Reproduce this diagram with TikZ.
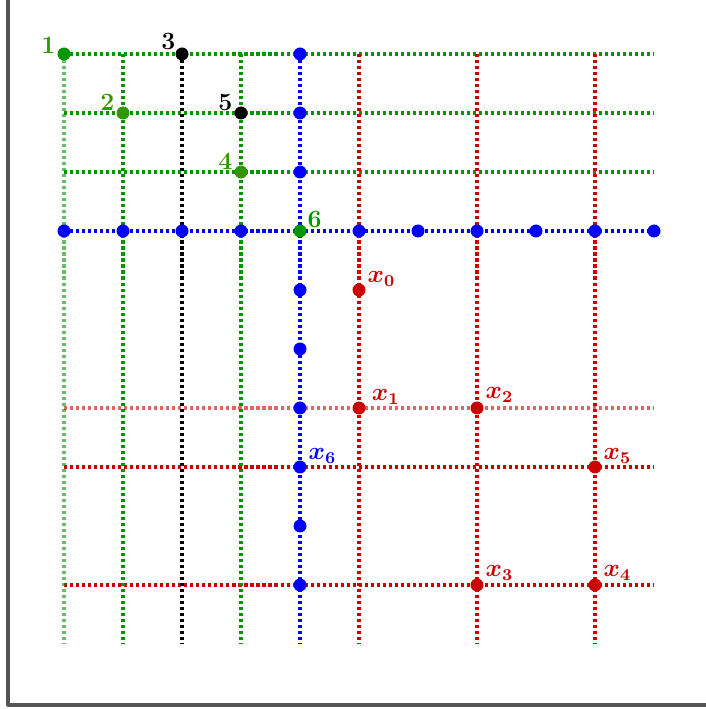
\documentclass[tikz,border=0pt]{standalone}
\usepackage{amsmath,bm}
\definecolor{gridgreen}{RGB}{0,150,0}
\definecolor{labgreen}{RGB}{51,150,0}
\definecolor{gridred}{RGB}{204,0,0}
\definecolor{gridblue}{RGB}{0,0,255}
\definecolor{framegray}{RGB}{85,85,85}
\begin{document}
\begin{tikzpicture}[x=1cm,y=-1cm, font=\large\bfseries, line join=round]
		\tikzset{gline/.style={line width=1.5pt, dash pattern=on 1.5pt off 1.4pt},
			labr/.style={anchor=south west,inner sep=0pt,xshift=4pt,yshift=1.5pt},
			labl/.style={anchor=south east,inner sep=0pt,xshift=-4pt,yshift=1pt}}
		\def\xmin{0}\def\xmax{10}\def\ymin{0}\def\ymax{10}
		\def\r{0.11}
		\useasboundingbox (-1.085,-0.915) rectangle (10.881,11.102);
		\draw[framegray, line width=1.5pt] (-0.949,-1.2)--(-0.949,11.034)--(11.2,11.034);
		% horizontal lines
		\foreach \j in {0,1,2} \draw[gline,gridgreen] (\xmin,\j)--(\xmax,\j);
		\draw[gline,gridred,opacity=.6] (\xmin,6)--(\xmax,6);
		\foreach \j in {7,9} \draw[gline,gridred] (\xmin,\j)--(\xmax,\j);
		% vertical lines
		\draw[gline,gridgreen,opacity=.6] (0,\ymin)--(0,\ymax);
		\foreach \i in {1,3} \draw[gline,gridgreen] (\i,\ymin)--(\i,\ymax);
		\draw[gline,black] (2,\ymin)--(2,\ymax);
		\foreach \i in {5,7,9} \draw[gline,gridred] (\i,\ymin)--(\i,\ymax);
		\draw[gline,gridblue] (4,\ymin)--(4,\ymax);
		\draw[gline,gridblue] (\xmin,3)--(\xmax,3);
		% blue points
		\foreach \i in {0,1,2,3,5,6,7,8,9,10} \fill[gridblue] (\i,3) circle(\r);
		\foreach \j in {0,1,2,4,5,6,8,9} \fill[gridblue] (4,\j) circle(\r);
		\fill[gridblue] (4,7) circle(\r) node[labr]{$\bm{x_6}$};
		% numbered points
		\fill[gridgreen] (0,0) circle(\r) node[labl,labgreen,yshift=-1pt]{1};
		\fill[labgreen] (1,1) circle(\r) node[labl]{2};
		\fill[black] (2,0) circle(\r) node[labl,xshift=1pt,yshift=1pt]{3};
		\fill[labgreen] (3,2) circle(\r) node[labl]{4};
		\fill[black] (3,1) circle(\r) node[labl]{5};
		\fill[gridgreen] (4,3) circle(\r) node[labr,xshift=-0.5pt]{6};
		% red points
		\fill[gridred] 
		(5,4) circle(\r) node[labr]{$\bm{x_0}$}
		(5,6) circle(\r) node[labr,xshift=2pt]{$\bm{x_1}$}
		(7,6) circle(\r) node[labr,yshift=1pt]{$\bm{x_2}$}
		(7,9) circle(\r) node[labr,yshift=0.5pt]{$\bm{x_3}$}
		(9,9) circle(\r) node[labr,yshift=0.5pt]{$\bm{x_4}$}
		(9,7) circle(\r) node[labr]{$\bm{x_5}$}
		;
\end{tikzpicture}
\end{document}
